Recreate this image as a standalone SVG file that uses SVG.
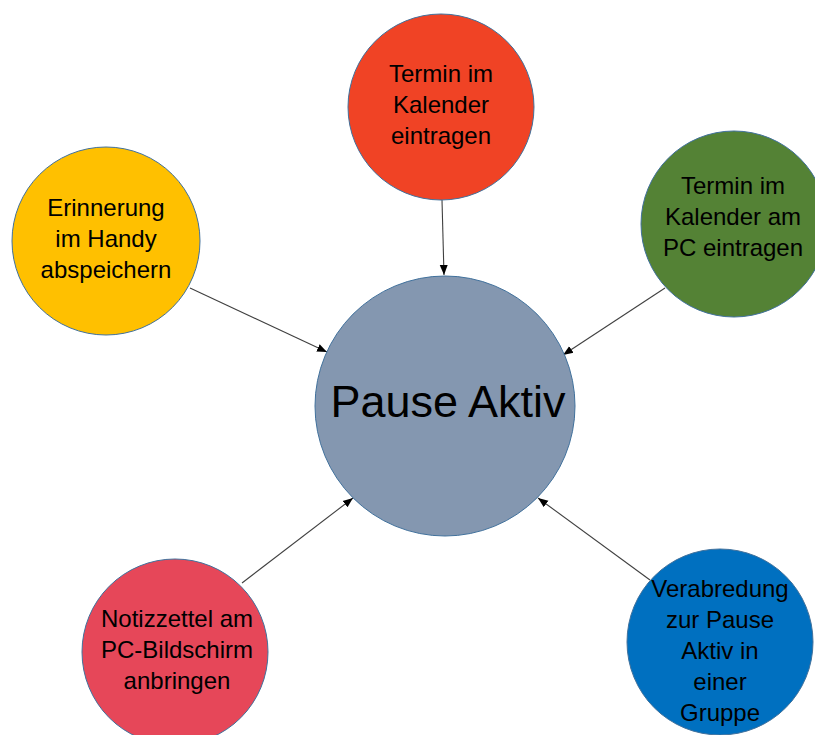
<svg xmlns="http://www.w3.org/2000/svg" width="815" height="735" viewBox="0 0 815 735">
<style>
.n{stroke:#41719C;stroke-width:1}
.t{font-family:"Liberation Sans",Arial,sans-serif;font-size:24px;fill:#000;text-anchor:middle}
.c{stroke:#404040;stroke-width:1.1;fill:none;marker-end:url(#ah)}
</style>
<defs>
<marker id="ah" viewBox="0 0 10 10" refX="10" refY="5" markerWidth="10" markerHeight="10" markerUnits="userSpaceOnUse" orient="auto">
<path d="M0,1 L10,5 L0,9 z" fill="#000"/>
</marker>
</defs>
<rect width="815" height="735" fill="#fff"/>
<g id="connectors">
<line class="c" x1="442" y1="200" x2="444" y2="275"/>
<line class="c" x1="665" y1="288" x2="563" y2="355"/>
<line class="c" x1="190" y1="288" x2="327" y2="352"/>
<line class="c" x1="242" y1="583" x2="353" y2="498"/>
<line class="c" x1="650" y1="580" x2="538" y2="498"/>
</g>
<g id="center">
<circle class="n" cx="445" cy="406" r="130" fill="#8497B0"/>
<text x="448" y="417" style="font-family:'Liberation Sans',Arial,sans-serif;font-size:45px;text-anchor:middle">Pause Aktiv</text>
</g>
<g id="kalender">
<circle class="n" cx="441" cy="107" r="93" fill="#F04325"/>
<text class="t" x="441" y="82">Termin im</text>
<text class="t" x="441" y="113">Kalender</text>
<text class="t" x="441" y="144">eintragen</text>
</g>
<g id="pc-kalender">
<circle class="n" cx="734" cy="224" r="93" fill="#548235"/>
<text class="t" x="733" y="194">Termin im</text>
<text class="t" x="733" y="225">Kalender am</text>
<text class="t" x="733" y="256">PC eintragen</text>
</g>
<g id="handy">
<circle class="n" cx="106" cy="241" r="94" fill="#FFC000"/>
<text class="t" x="106" y="216">Erinnerung</text>
<text class="t" x="106" y="247">im Handy</text>
<text class="t" x="106" y="278">abspeichern</text>
</g>
<g id="notizzettel">
<circle class="n" cx="175" cy="652" r="93" fill="#E64759"/>
<text class="t" x="177" y="627">Notizzettel am</text>
<text class="t" x="177" y="658">PC-Bildschirm</text>
<text class="t" x="177" y="689">anbringen</text>
</g>
<g id="gruppe">
<circle class="n" cx="720" cy="642" r="93" fill="#0070C0"/>
<text class="t" x="720" y="597">Verabredung</text>
<text class="t" x="720" y="628">zur Pause</text>
<text class="t" x="720" y="659">Aktiv in</text>
<text class="t" x="720" y="690">einer</text>
<text class="t" x="720" y="721">Gruppe</text>
</g>
</svg>
